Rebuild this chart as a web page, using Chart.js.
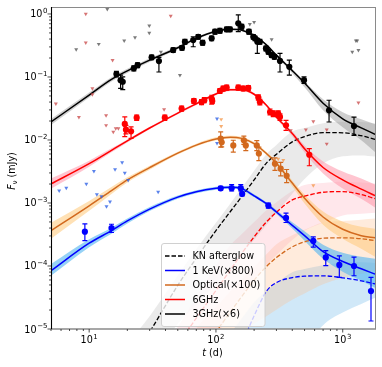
<!DOCTYPE html>
<html>
<head>
<meta charset="utf-8">
<script src="https://cdn.jsdelivr.net/npm/chart.js@4.4.1/dist/chart.umd.min.js"></script>
<style>
  html, body { margin: 0; padding: 0; background: #fff; }
  #chart { display: block; }
</style>
</head>
<body>
<canvas id="chart" width="382" height="367"></canvas>
<script>
// --- model curves (t in days, flux in mJy, already scaled) ---
const modelT = [5, 10, 15, 20, 30, 50, 70, 100, 130, 160, 200, 250, 300, 400, 500, 700, 1000, 1400, 1800];

const radio3Model = [0.0193, 0.0517, 0.0916, 0.125, 0.185, 0.291, 0.410, 0.531, 0.571, 0.552, 0.456, 0.323, 0.222, 0.126, 0.080, 0.0383, 0.0217, 0.0156, 0.0123];
const radio3BandHi = [0.0215, 0.0567, 0.0993, 0.1345, 0.198, 0.307, 0.430, 0.550, 0.592, 0.573, 0.473, 0.335, 0.231, 0.133, 0.0858, 0.0443, 0.0275, 0.0213, 0.0177];
const radio3BandLo = [0.0173, 0.0472, 0.0845, 0.116, 0.173, 0.275, 0.391, 0.511, 0.550, 0.532, 0.440, 0.312, 0.212, 0.115, 0.0688, 0.0296, 0.0159, 0.0099, 0.0064];

const radio6Model = [0.00201, 0.00421, 0.00686, 0.00968, 0.0155, 0.0267, 0.0376, 0.0538, 0.0628, 0.0626, 0.0532, 0.0356, 0.0229, 0.0127, 0.00724, 0.00366, 0.00233, 0.00166, 0.00131];
const radio6BandHi = [0.00245, 0.0047, 0.00738, 0.0102, 0.0162, 0.0279, 0.0393, 0.0562, 0.0656, 0.0654, 0.0556, 0.0372, 0.0241, 0.0137, 0.0082, 0.00456, 0.00316, 0.00245, 0.00196];
const radio6BandLo = [0.00169, 0.00377, 0.00637, 0.00916, 0.0148, 0.0255, 0.036, 0.0515, 0.0601, 0.0599, 0.0509, 0.034, 0.0217, 0.0115, 0.00635, 0.00294, 0.0017, 0.00117, 0.000845];

const opticalModel = [3.64e-4, 9.02e-4, 1.57e-3, 2.32e-3, 3.64e-3, 6.18e-3, 8.3e-3, 0.0104, 0.0111, 0.0106, 8.77e-3, 6.1e-3, 4.27e-3, 2.07e-3, 1.19e-3, 6.0e-4, 3.83e-4, 3.03e-4, 2.81e-4];
const opticalBandHi = [4.87e-4, 1.08e-3, 1.79e-3, 2.55e-3, 3.91e-3, 6.52e-3, 8.75e-3, 0.011, 0.0117, 0.0112, 9.25e-3, 6.43e-3, 4.6e-3, 2.28e-3, 1.36e-3, 7.3e-4, 5.06e-4, 4.21e-4, 3.91e-4];
const opticalBandLo = [2.71e-4, 7.5e-4, 1.39e-3, 2.12e-3, 3.38e-3, 5.86e-3, 7.87e-3, 9.86e-3, 0.0105, 0.01, 8.32e-3, 5.78e-3, 3.97e-3, 1.83e-3, 9.8e-4, 4.53e-4, 2.71e-4, 1.88e-4, 1.4e-4];

const xrayModel = [8.4e-5, 2.3e-4, 3.64e-4, 5.19e-4, 8.0e-4, 1.24e-3, 1.51e-3, 1.71e-3, 1.78e-3, 1.69e-3, 1.30e-3, 9.75e-4, 7.19e-4, 4.42e-4, 3.03e-4, 1.69e-4, 1.18e-4, 9.02e-5, 7.43e-5];
const xrayBandHi = [1.08e-4, 2.66e-4, 4.06e-4, 5.69e-4, 8.6e-4, 1.31e-3, 1.6e-3, 1.81e-3, 1.88e-3, 1.79e-3, 1.37e-3, 1.03e-3, 7.74e-4, 4.93e-4, 3.57e-4, 2.18e-4, 1.62e-4, 1.40e-4, 1.30e-4];
const xrayBandLo = [6.98e-5, 1.99e-4, 3.26e-4, 4.73e-4, 7.43e-4, 1.17e-3, 1.43e-3, 1.62e-3, 1.68e-3, 1.6e-3, 1.23e-3, 9.22e-4, 6.68e-4, 3.95e-4, 2.52e-4, 1.30e-4, 8.09e-5, 5.81e-5, 4.5e-5];

// --- KN afterglow curves ---
const knT = [25, 30, 50, 70, 100, 130, 160, 200, 250, 300, 400, 500, 700, 1000, 1400, 1800];

const kn3 = [5.1e-6, 8.96e-6, 4.94e-5, 1.33e-4, 3.65e-4, 7.33e-4, 1.27e-3, 2.32e-3, 4.3e-3, 5.92e-3, 9.33e-3, 0.0113, 0.0131, 0.013, 0.0117, 0.0102];
const kn3Hi = [1.0e-5, 1.6e-5, 7.06e-5, 1.85e-4, 4.85e-4, 9.82e-4, 1.74e-3, 3.24e-3, 5.96e-3, 8.36e-3, 0.0136, 0.0155, 0.0185, 0.0194, 0.0193, 0.0184];
const kn3Lo = [1.5e-6, 2.5e-6, 1.21e-5, 2.41e-5, 5.19e-5, 9.46e-5, 1.53e-4, 2.6e-4, 4.48e-4, 6.95e-4, 1.4e-3, 2.4e-3, 4.24e-3, 5.5e-3, 5.69e-3, 5.48e-3];

const kn6 = [7e-7, 1.2e-6, 5.6e-6, 1.49e-5, 4.09e-5, 8.67e-5, 1.59e-4, 2.9e-4, 5.0e-4, 7.14e-4, 1.12e-3, 1.28e-3, 1.48e-3, 1.52e-3, 1.36e-3, 1.17e-3];
const kn6Hi = [1.35e-6, 2.3e-6, 1.08e-5, 3.18e-5, 1.01e-4, 2.14e-4, 3.22e-4, 4.98e-4, 7.7e-4, 1.03e-3, 1.55e-3, 1.93e-3, 2.07e-3, 2.17e-3, 2.11e-3, 2.04e-3];
const kn6Lo = [1e-7, 2e-7, 1e-6, 2.5e-6, 7e-6, 2.02e-5, 3.52e-5, 6.32e-5, 1.05e-4, 1.49e-4, 2.58e-4, 3.64e-4, 4.84e-4, 6.35e-4, 6.73e-4, 7.03e-4];

const knOpt = [1.8e-7, 3e-7, 1.3e-6, 3.5e-6, 9e-6, 1.87e-5, 3.3e-5, 5.98e-5, 9.78e-5, 1.36e-4, 2.01e-4, 2.42e-4, 2.76e-4, 2.8e-4, 2.71e-4, 2.52e-4];
const knOptHi = [5e-7, 9e-7, 3.5e-6, 1.02e-5, 2.23e-5, 3.97e-5, 6.24e-5, 9.75e-5, 1.53e-4, 2.21e-4, 3.08e-4, 3.77e-4, 4.91e-4, 5.19e-4, 5.44e-4, 5.65e-4];
const knOptLo = [1e-7, 1.5e-7, 5e-7, 1.2e-6, 2.5e-6, 4.5e-6, 8.7e-6, 1.2e-5, 1.6e-5, 2.02e-5, 2.9e-5, 3.65e-5, 5.12e-5, 6.44e-5, 7.48e-5, 8.4e-5];

const knX = [6e-9, 1e-8, 6e-8, 2e-7, 8e-7, 2.5e-6, 5.8e-6, 1.62e-5, 3.96e-5, 5.46e-5, 6.53e-5, 6.9e-5, 6.98e-5, 6.49e-5, 5.81e-5, 5.21e-5];
const knXHi = [6e-8, 1e-7, 5e-7, 1.5e-6, 4.5e-6, 8.6e-6, 1.48e-5, 2.67e-5, 4.02e-5, 5.36e-5, 7.96e-5, 8.95e-5, 1.03e-4, 1.13e-4, 1.15e-4, 1.12e-4];
const knXLo = [1e-8, 1e-8, 1e-8, 1e-8, 1e-8, 1e-8, 1e-8, 5e-8, 1e-7, 3e-7, 1.5e-6, 4.5e-6, 1.15e-5, 1.83e-5, 2.5e-5, 3.12e-5];

// --- observations ---
const radio3T = [16.4, 17.7, 18.4, 22.5, 24.1, 31.1, 35.5, 46, 54, 56.9, 66.2, 72.5, 78.5, 92.5, 98.3, 107.5, 121.5, 129, 150, 159.6, 182, 197, 203, 212, 222, 248, 259, 275, 289, 320, 379, 495, 780, 1227];
const radio3F = [0.111, 0.089, 0.084, 0.137, 0.154, 0.205, 0.179, 0.267, 0.29, 0.362, 0.385, 0.435, 0.349, 0.41, 0.523, 0.542, 0.571, 0.571, 0.711, 0.628, 0.523, 0.435, 0.41, 0.362, 0.362, 0.284, 0.251, 0.222, 0.209, 0.18, 0.145, 0.089, 0.0296, 0.0166];
const radio3Lo = [0.100, 0.066, 0.063, 0.125, 0.141, 0.188, 0.120, 0.245, 0.266, 0.332, 0.302, 0.398, 0.320, 0.376, 0.480, 0.497, 0.524, 0.524, 0.523, 0.576, 0.480, 0.398, 0.376, 0.237, 0.332, 0.260, 0.230, 0.204, 0.192, 0.120, 0.107, 0.079, 0.0193, 0.0118];
const radio3Hi = [0.123, 0.107, 0.100, 0.150, 0.168, 0.223, 0.204, 0.290, 0.315, 0.394, 0.435, 0.472, 0.380, 0.446, 0.568, 0.589, 0.620, 0.620, 0.964, 0.683, 0.568, 0.472, 0.446, 0.410, 0.394, 0.309, 0.273, 0.241, 0.227, 0.237, 0.185, 0.100, 0.0427, 0.023];

const radio6T = [19.1, 19.5, 21.4, 23.7, 39.5, 53.6, 67, 77, 81, 92.5, 93.5, 107.5, 114, 121.5, 150, 164, 180, 216, 222, 267, 283, 310, 320, 357, 545];
const radio6F = [0.018, 0.0146, 0.0137, 0.0226, 0.0226, 0.0315, 0.0416, 0.040, 0.0428, 0.0454, 0.0416, 0.060, 0.0656, 0.068, 0.068, 0.0656, 0.067, 0.0472, 0.040, 0.0278, 0.0262, 0.0262, 0.0232, 0.0171, 0.00583];
const radio6Lo = [0.0113, 0.0125, 0.0106, 0.0205, 0.0205, 0.0287, 0.038, 0.0365, 0.039, 0.037, 0.038, 0.055, 0.060, 0.062, 0.062, 0.060, 0.061, 0.043, 0.036, 0.025, 0.0235, 0.0235, 0.0205, 0.0142, 0.0039];
const radio6Hi = [0.0233, 0.017, 0.0161, 0.0249, 0.0249, 0.0346, 0.0455, 0.0438, 0.047, 0.0513, 0.0455, 0.0655, 0.0715, 0.074, 0.074, 0.0715, 0.073, 0.052, 0.044, 0.031, 0.029, 0.029, 0.026, 0.0205, 0.0073];

const optT = [109, 111, 137, 166, 172, 210, 218, 292, 324, 361];
const optF = [0.0105, 0.0092, 0.0082, 0.0099, 0.0082, 0.0082, 0.0061, 0.0042, 0.0035, 0.0027];
const optLo = [0.0077, 0.0078, 0.0064, 0.0085, 0.0068, 0.0068, 0.0047, 0.0033, 0.0027, 0.0021];
const optHi = [0.0134, 0.0108, 0.0099, 0.0115, 0.0098, 0.0098, 0.0077, 0.0052, 0.0044, 0.0034];

const xrT = [9.25, 15, 109, 133, 157, 161, 259, 357, 586, 735, 940, 1227, 1671];
const xrF = [3.5e-4, 4.0e-4, 1.71e-3, 1.72e-3, 1.72e-3, 1.40e-3, 9.1e-4, 5.8e-4, 2.5e-4, 1.37e-4, 1.04e-4, 1.0e-4, 4.0e-5];
const xrLo = [2.52e-4, 3.4e-4, 1.6e-3, 1.55e-3, 1.55e-3, 1.3e-3, 8.3e-4, 4.9e-4, 2.0e-4, 1.01e-4, 6.6e-5, 7.0e-5, 1.34e-5];
const xrHi = [4.65e-4, 4.6e-4, 1.83e-3, 1.95e-3, 1.95e-3, 1.5e-3, 1.0e-3, 6.9e-4, 2.9e-4, 1.75e-4, 1.45e-4, 1.38e-4, 6.6e-5];

// upper limits
const lim3T = [7.9, 11.9, 13.9, 18.9, 23, 29.8, 29.8, 36.8, 52, 185, 200, 275, 1190, 1270, 1300, 1330];
const lim3F = [0.274, 0.333, 1.19, 0.377, 0.425, 0.65, 0.50, 0.25, 0.107, 0.69, 0.74, 0.395, 0.25, 0.377, 0.377, 0.267];
const lim6T = [5.46, 8.3, 9.4, 9.4, 10.6, 10.6, 13.6, 13.6, 15.3, 15.5, 16.2, 17, 39, 44, 389, 512, 586, 748, 748, 1330];
const lim6F = [0.0378, 0.023, 1.0, 0.35, 0.066, 0.053, 0.0246, 0.0171, 0.185, 0.0134, 0.0152, 0.0152, 0.0306, 0.93, 0.0142, 0.0146, 0.0197, 0.0146, 0.0087, 0.039];
const limXT = [5.8, 6.6, 9.5, 10.9, 11.5, 12.5, 13.7, 14.6, 16, 18.2, 19.1, 20.3, 35, 102, 102];
const limXF = [1.57e-3, 1.74e-3, 2.0e-3, 3.2e-3, 1.37e-3, 1.27e-3, 8.8e-4, 1.05e-3, 3.4e-3, 4.4e-3, 3.0e-3, 2.3e-3, 1.5e-3, 0.0218, 0.0089];
const limOT = [110, 110, 310, 340, 586];
const limOF = [0.0213, 0.0166, 0.0050, 0.0048, 0.0019];

const legendLabels = ['KN afterglow', '1 KeV(\u00d7800)', 'Optical(\u00d7100)', '6GHz', '3GHz(\u00d76)'];
const xMajor = [1, 2, 3];
const yMajor = [-5, -4, -3, -2, -1, 0];

// --- helpers ---
const FONT = '"DejaVu Sans", sans-serif';
const pts = (ts, vs) => ts.map((t, i) => ({ x: t, y: vs[i] }));

function band(ts, hi, lo, color, order) {
    return [
        { data: pts(ts, hi), borderColor: 'rgba(0,0,0,0)', borderWidth: 0, pointRadius: 0, fill: '+1', backgroundColor: color, order: order, cubicInterpolationMode: 'monotone' },
        { data: pts(ts, lo), borderColor: 'rgba(0,0,0,0)', borderWidth: 0, pointRadius: 0, fill: false, order: order, cubicInterpolationMode: 'monotone' }
    ];
}
function curve(ts, vs, color, width, dash, order) {
    return { data: pts(ts, vs), borderColor: color, borderWidth: width, borderDash: dash, pointRadius: 0, fill: false, order: order, cubicInterpolationMode: 'monotone' };
}
function marks(ts, vs, lo, hi, color) {
    return { data: pts(ts, vs), showLine: false, pointRadius: 3.1, pointBackgroundColor: color, pointBorderColor: color, pointBorderWidth: 0, order: 50, errLo: lo, errHi: hi, errColor: color };
}
function limits(ts, vs, color) {
    return { data: pts(ts, vs), showLine: false, pointStyle: 'triangle', rotation: 180, pointRadius: 2.3, pointBackgroundColor: color, pointBorderColor: color, pointBorderWidth: 0, order: 60 };
}

const datasets = [].concat(
    band(knT, kn3Hi, kn3Lo, 'rgba(185,185,185,0.3)', 100),
    band(knT, kn6Hi, kn6Lo, 'rgba(255,160,175,0.25)', 100),
    band(knT, knOptHi, knOptLo, 'rgba(255,190,140,0.3)', 100),
    band(knT, knXHi, knXLo, 'rgba(120,190,235,0.35)', 100),
    band(modelT, radio3BandHi, radio3BandLo, 'rgba(130,130,130,0.38)', 90),
    band(modelT, radio6BandHi, radio6BandLo, 'rgba(255,150,170,0.55)', 90),
    band(modelT, opticalBandHi, opticalBandLo, 'rgba(255,200,120,0.55)', 90),
    band(modelT, xrayBandHi, xrayBandLo, 'rgba(80,180,240,0.6)', 90),
    [
        curve(knT, kn3, '#000', 1.3, [4.5, 2], 80),
        curve(knT, kn6, '#ff0000', 1.3, [4.5, 2], 80),
        curve(knT, knOpt, '#d2691e', 1.3, [4.5, 2], 80),
        curve(knT, knX, '#0000ff', 1.3, [4.5, 2], 80),
        curve(modelT, radio3Model, '#000', 1.5, [], 70),
        curve(modelT, radio6Model, '#ff0000', 1.5, [], 70),
        curve(modelT, opticalModel, '#d2691e', 1.5, [], 70),
        curve(modelT, xrayModel, '#0000ff', 1.5, [], 70),
        limits(lim3T, lim3F, 'rgba(90,90,90,0.8)'),
        limits(lim6T, lim6F, 'rgba(200,70,70,0.75)'),
        limits(limXT, limXF, 'rgba(50,100,230,0.8)'),
        limits(limOT, limOF, 'rgba(245,160,90,0.85)'),
        marks(radio3T, radio3F, radio3Lo, radio3Hi, '#000'),
        marks(radio6T, radio6F, radio6Lo, radio6Hi, '#ff0000'),
        marks(optT, optF, optLo, optHi, '#d2691e'),
        marks(xrT, xrF, xrLo, xrHi, '#0000ff')
    ]
);

function drawPow(ctx, exp, x, yBase, align) {
    const base = '9.6px ' + FONT, sup = '7px ' + FONT;
    const expStr = exp < 0 ? '\u2212' + Math.abs(exp) : String(exp);
    ctx.font = base;
    const w10 = ctx.measureText('10').width;
    ctx.font = sup;
    const we = ctx.measureText(expStr).width;
    const total = w10 + 0.6 + we;
    const x0 = align === 'right' ? x - total : x - total / 2;
    ctx.textAlign = 'left';
    ctx.textBaseline = 'alphabetic';
    ctx.font = base;
    ctx.fillText('10', x0, yBase);
    ctx.font = sup;
    ctx.fillText(expStr, x0 + w10 + 0.6, yBase - 4.3);
}

const frame = {
    id: 'frame',
    afterDatasetsDraw(chart) {
        const ctx = chart.ctx, xs = chart.scales.x, ys = chart.scales.y, a = chart.chartArea;
        ctx.save();
        ctx.beginPath();
        ctx.rect(a.left, a.top, a.right - a.left, a.bottom - a.top);
        ctx.clip();
        chart.data.datasets.forEach(ds => {
            if (!ds.errLo) return;
            ctx.strokeStyle = ds.errColor;
            ctx.lineWidth = 1.2;
            ds.data.forEach((p, i) => {
                const x = xs.getPixelForValue(p.x);
                const y1 = ys.getPixelForValue(ds.errLo[i]);
                const y2 = ys.getPixelForValue(ds.errHi[i]);
                ctx.beginPath();
                ctx.moveTo(x, y1); ctx.lineTo(x, y2);
                ctx.moveTo(x - 2.5, y1); ctx.lineTo(x + 2.5, y1);
                ctx.moveTo(x - 2.5, y2); ctx.lineTo(x + 2.5, y2);
                ctx.stroke();
            });
        });
        ctx.restore();
    },
    afterDraw(chart) {
        const ctx = chart.ctx, xs = chart.scales.x, ys = chart.scales.y, a = chart.chartArea;
        ctx.save();

        // spines
        ctx.lineWidth = 1;
        ctx.strokeStyle = '#8a8a8a';
        ctx.beginPath();
        ctx.moveTo(a.left, a.top + 0.5); ctx.lineTo(a.right, a.top + 0.5);
        ctx.moveTo(a.right - 0.5, a.top); ctx.lineTo(a.right - 0.5, a.bottom);
        ctx.stroke();
        ctx.lineWidth = 1.4;
        ctx.beginPath();
        ctx.moveTo(a.left, a.bottom); ctx.lineTo(a.right, a.bottom);
        ctx.stroke();
        ctx.strokeStyle = '#000';
        ctx.lineWidth = 1.1;
        ctx.beginPath();
        ctx.moveTo(a.left + 0.5, a.top); ctx.lineTo(a.left + 0.5, a.bottom);
        ctx.stroke();

        // ticks
        ctx.strokeStyle = '#222';
        ctx.lineWidth = 0.8;
        ctx.beginPath();
        for (let d = 0; d <= 3; d++) {
            for (let m = 1; m <= 9; m++) {
                const v = m * Math.pow(10, d);
                if (v < xs.min || v > xs.max) continue;
                const x = xs.getPixelForValue(v);
                ctx.moveTo(x, a.bottom); ctx.lineTo(x, a.bottom + (m === 1 ? 3.5 : 2));
            }
        }
        for (let d = -5; d <= 0; d++) {
            for (let m = 1; m <= 9; m++) {
                const v = m * Math.pow(10, d);
                if (v < ys.min * 0.999 || v > ys.max) continue;
                const y = ys.getPixelForValue(v);
                ctx.moveTo(a.left, y); ctx.lineTo(a.left - (m === 1 ? 3.5 : 2), y);
            }
        }
        ctx.stroke();

        // tick labels
        ctx.fillStyle = '#000';
        xMajor.forEach(e => drawPow(ctx, e, xs.getPixelForValue(Math.pow(10, e)), 343, 'center'));
        yMajor.forEach(e => drawPow(ctx, e, 47.5, ys.getPixelForValue(Math.pow(10, e)) + 3.5, 'right'));

        // x title: t (d)
        ctx.textBaseline = 'alphabetic';
        ctx.textAlign = 'left';
        ctx.font = 'italic 9.6px ' + FONT;
        const wt = ctx.measureText('t').width;
        ctx.font = '9.6px ' + FONT;
        const wr = ctx.measureText(' (d)').width;
        const tx = 212.5 - (wt + wr) / 2;
        ctx.font = 'italic 9.6px ' + FONT;
        ctx.fillText('t', tx, 356);
        ctx.font = '9.6px ' + FONT;
        ctx.fillText(' (d)', tx + wt, 356);

        // y title: F_nu (mJy)
        ctx.save();
        ctx.translate(14.5, 171);
        ctx.rotate(-Math.PI / 2);
        ctx.font = 'italic 9.6px ' + FONT;
        const wF = ctx.measureText('F').width;
        ctx.font = '6.8px ' + FONT;
        const wn = ctx.measureText('\u03bd').width;
        ctx.font = '9.6px ' + FONT;
        const wm = ctx.measureText(' (mJy)').width;
        let sx = -(wF + wn + wm) / 2;
        ctx.font = 'italic 9.6px ' + FONT;
        ctx.fillText('F', sx, 0);
        ctx.font = '6.8px ' + FONT;
        ctx.fillText('\u03bd', sx + wF, 2.2);
        ctx.font = '9.6px ' + FONT;
        ctx.fillText(' (mJy)', sx + wF + wn, 0);
        ctx.restore();

        // legend
        const lx = 161.5, ly = 243.5, lw = 103.5, lh = 83, r = 2.5;
        ctx.beginPath();
        ctx.moveTo(lx + r, ly);
        ctx.lineTo(lx + lw - r, ly); ctx.arcTo(lx + lw, ly, lx + lw, ly + r, r);
        ctx.lineTo(lx + lw, ly + lh - r); ctx.arcTo(lx + lw, ly + lh, lx + lw - r, ly + lh, r);
        ctx.lineTo(lx + r, ly + lh); ctx.arcTo(lx, ly + lh, lx, ly + lh - r, r);
        ctx.lineTo(lx, ly + r); ctx.arcTo(lx, ly, lx + r, ly, r);
        ctx.closePath();
        ctx.fillStyle = 'rgba(255,255,255,0.8)';
        ctx.fill();
        ctx.strokeStyle = '#d0d0d0';
        ctx.lineWidth = 1;
        ctx.stroke();

        const handleColors = ['#000', '#0000ff', '#d2691e', '#ff0000', '#000'];
        ctx.font = '9.6px ' + FONT;
        ctx.textBaseline = 'middle';
        legendLabels.forEach((lab, i) => {
            const y = 256 + i * 14.5;
            ctx.strokeStyle = handleColors[i];
            ctx.lineWidth = 1.5;
            ctx.setLineDash(i === 0 ? [4.5, 2] : []);
            ctx.beginPath();
            ctx.moveTo(165, y); ctx.lineTo(185, y);
            ctx.stroke();
            ctx.setLineDash([]);
            ctx.fillStyle = '#000';
            ctx.fillText(lab, 192.5, y + 0.5);
        });

        ctx.restore();
    }
};

new Chart(document.getElementById('chart'), {
    type: 'line',
    data: { datasets: datasets },
    options: {
        responsive: false,
        animation: false,
        devicePixelRatio: 1,
        events: [],
        layout: { padding: { left: 51, right: 6, top: 7, bottom: 38 } },
        plugins: { legend: { display: false }, tooltip: { enabled: false } },
        scales: {
            x: { type: 'logarithmic', min: 5, max: 1830, bounds: 'data', display: false },
            y: { type: 'logarithmic', min: 1e-5, max: 1.29, bounds: 'data', display: false }
        }
    },
    plugins: [frame]
});
</script>
</body>
</html>
